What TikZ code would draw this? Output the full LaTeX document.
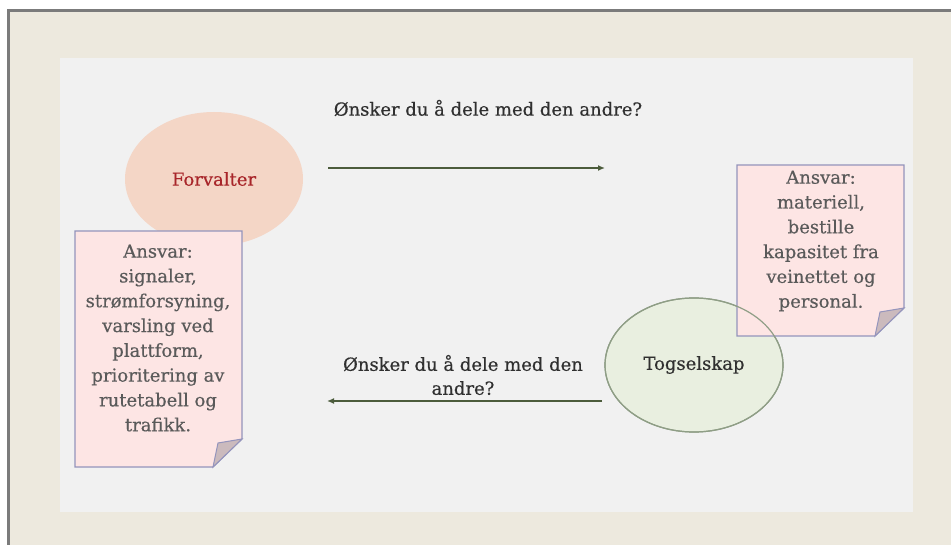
\documentclass[tikz,border=0pt]{standalone}
\usepackage{fontspec}
\setmainfont[FakeBold=0.4]{DejaVu Serif}
\usepackage{tikz}
\usetikzlibrary{shapes.geometric,positioning,arrows.meta}

\definecolor{beige}{HTML}{EDE9DE}
\definecolor{panel}{HTML}{F1F1F1}
\definecolor{frame}{HTML}{7B7B7B}
\definecolor{peach}{HTML}{F4D6C6}
\definecolor{mint}{HTML}{E9EFE0}
\definecolor{mintline}{HTML}{8F9E86}
\definecolor{notefill}{HTML}{FDE5E4}
\definecolor{noteline}{HTML}{9494BC}
\definecolor{flapfill}{HTML}{CBBABD}
\definecolor{olive}{HTML}{4C5C3C}
\definecolor{darkred}{HTML}{A8262A}
\definecolor{ink}{HTML}{303030}
\definecolor{notetext}{HTML}{5A5A5A}

% note paper with a folded corner: x, y (top left), width, height
\newcommand{\papernote}[4]{%
  \filldraw[fill=notefill,draw=noteline,line width=1.2pt]
    (#1,#2) -- ++(#3,0) -- ++(0,#4-28) -- ++(-29,28) -- (#1,#2+#4) -- cycle;
  \filldraw[fill=flapfill,draw=noteline,line width=1pt]
    (#1+#3,#2+#4-28) -- ++(-24,4) -- ++(-5,24) -- cycle;
}

\begin{document}
\begin{tikzpicture}[x=1pt,y=-1pt,
  actor/.style={ellipse,minimum width=178pt,minimum height=134pt,
    font=\fontsize{18}{22}\selectfont},
  notetxt/.style={align=center,text=notetext,
    font=\fontsize{18}{24.8}\selectfont},
  ask/.style={align=center,text=ink,font=\fontsize{18}{24}\selectfont},
  flow/.style={draw=olive,line width=1.6pt,-{Latex[length=7pt,width=6pt]}}]
  \useasboundingbox (0,0) rectangle (951,545);
  % background
  \fill[beige] (7,9) rectangle (951,545);
  \draw[frame,line width=3pt] (7,10.5) -- (951,10.5);
  \draw[frame,line width=2.5pt] (8.5,9) -- (8.5,545);
  \fill[panel] (60,58) rectangle (913,512);

  \node[actor,fill=peach,text=darkred] (forv) at (214,179) {Forvalter};
  \papernote{75}{231}{167}{236}
  \node[notetxt] (ansvarforv) at (158,338)
    {Ansvar:\\signaler,\\strømforsyning,\\varsling ved\\plattform,\\prioritering av\\rutetabell og\\trafikk.};

  \node[actor,fill=mint,draw=mintline,line width=1.2pt,text=ink] (tog) at (694,365) {Togselskap};
  \papernote{737}{165}{167}{171}
  \node[notetxt] (ansvartog) at (821,241)
    {Ansvar:\\materiell,\\bestille\\kapasitet fra\\veinettet og\\personal.};
  \node[actor,draw=mintline,line width=1.2pt] (togrim) at (tog) {};

  \coordinate (upfrom) at (328,168);
  \coordinate (upto) at (605,168);
  \coordinate (downfrom) at (602,401);
  \coordinate (downto) at (327,401);
  \draw[flow] (upfrom) -- (upto);
  \draw[flow] (downfrom) -- (downto);
  \node[ask] (askup) at (488,108) {Ønsker du å dele med den andre?};
  \node[ask] (askdown) at (463,375) {Ønsker du å dele med den\\andre?};
\end{tikzpicture}
\end{document}
